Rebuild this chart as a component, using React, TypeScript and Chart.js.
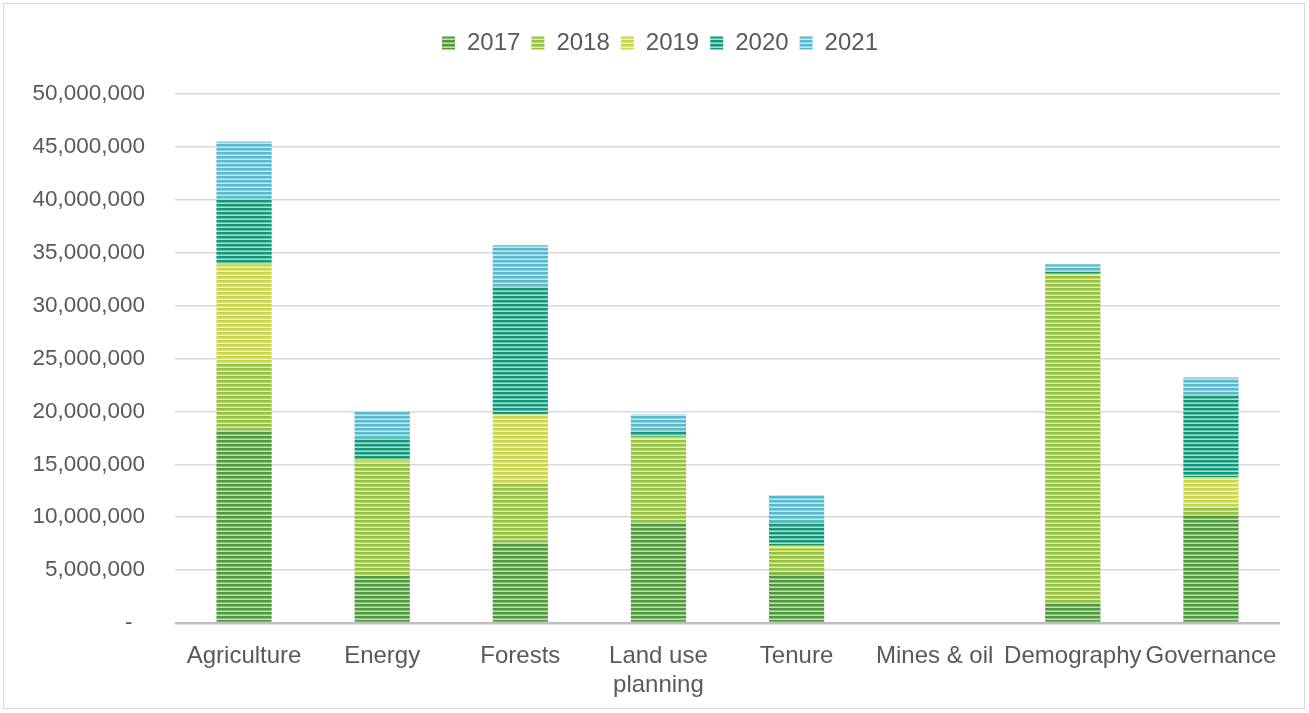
import React, { useEffect, useRef } from "react";
import { Chart, registerables } from "chart.js";

Chart.register(...registerables);

const categories: (string | string[])[] = [
  "Agriculture",
  "Energy",
  "Forests",
  ["Land use", "planning"],
  "Tenure",
  "Mines & oil",
  "Demography",
  "Governance",
];

const seriesLabels = ["2017", "2018", "2019", "2020", "2021"];

const values2017 = [18200000, 4500000, 7600000, 9500000, 4700000, 0, 1900000, 10200000];
const values2018 = [6400000, 10700000, 5600000, 7800000, 2300000, 0, 30900000, 800000];
const values2019 = [9300000, 200000, 6500000, 300000, 300000, 0, 200000, 2800000];
const values2020 = [6200000, 2100000, 12100000, 600000, 2300000, 0, 300000, 7800000];
const values2021 = [5400000, 2500000, 3900000, 1500000, 2500000, 0, 600000, 1600000];

const seriesColors = ["#4f9b3a", "#95c23b", "#c9d645", "#13997a", "#57b9cd"];

const FONT = "'Liberation Sans', Arial, sans-serif";

function mix(hex: string, t: number): string {
  const r = parseInt(hex.slice(1, 3), 16);
  const g = parseInt(hex.slice(3, 5), 16);
  const b = parseInt(hex.slice(5, 7), 16);
  const m = (c: number) => Math.round(c + (255 - c) * t);
  return `rgb(${m(r)},${m(g)},${m(b)})`;
}

function stripePattern(color: string): CanvasPattern | string {
  const c = document.createElement("canvas");
  c.width = 4;
  c.height = 4;
  const ctx = c.getContext("2d");
  if (!ctx) return color;
  ctx.fillStyle = color;
  ctx.fillRect(0, 0, 4, 2);
  ctx.fillStyle = mix(color, 0.35);
  ctx.fillRect(0, 2, 4, 1);
  ctx.fillStyle = mix(color, 0.65);
  ctx.fillRect(0, 3, 4, 1);
  const p = ctx.createPattern(c, "repeat");
  return p || color;
}

const legendSpacer = {
  id: "legendSpacer",
  beforeInit(chart: any) {
    if (!chart.legend) return;
    const orig = chart.legend.fit;
    chart.legend.fit = function () {
      orig.bind(chart.legend)();
      this.height += 29;
    };
  },
  afterLayout(chart: any) {
    if (!chart.legend) return;
    chart.legend.left += 40;
  },
};

export default function App() {
  const ref = useRef<HTMLCanvasElement>(null);

  useEffect(() => {
    document.body.style.margin = "0";
    if (!ref.current) return;
    const all = [values2017, values2018, values2019, values2020, values2021];
    const chart = new Chart(ref.current, {
      type: "bar",
      data: {
        labels: categories,
        datasets: all.map((d, i) => ({
          label: seriesLabels[i],
          data: d,
          backgroundColor: stripePattern(seriesColors[i]),
          borderWidth: 0,
          barPercentage: 0.8,
          categoryPercentage: 0.5,
        })),
      },
      plugins: [legendSpacer],
      options: {
        animation: false,
        responsive: false,
        maintainAspectRatio: false,
        layout: { padding: { left: 0, right: 29, top: 20, bottom: 0 } },
        plugins: {
          tooltip: { enabled: false },
          legend: {
            position: "top",
            labels: {
              boxWidth: 13,
              boxHeight: 13,
              padding: 11,
              color: "#595959",
              font: { family: FONT, size: 24 },
            },
          },
        },
        scales: {
          x: {
            stacked: true,
            grid: { display: false, drawTicks: false, tickLength: 0 },
            border: { display: false },
            afterFit: (scale: any) => {
              scale.height = 90;
            },
            ticks: {
              color: "#595959",
              padding: 19,
              maxRotation: 0,
              autoSkip: false,
              font: { family: FONT, size: 24, lineHeight: 1.2 },
            },
          },
          y: {
            stacked: true,
            min: 0,
            max: 50000000,
            border: { display: false },
            grid: {
              drawTicks: false,
              color: (ctx: any) => (ctx.tick && ctx.tick.value === 0 ? "#bfbfbf" : "#d9d9d9"),
              lineWidth: (ctx: any) => (ctx.tick && ctx.tick.value === 0 ? 2.5 : 1.5),
            },
            afterFit: (scale: any) => {
              scale.width = 175;
            },
            ticks: {
              stepSize: 5000000,
              padding: 30,
              color: "#595959",
              font: { family: FONT, size: 22.5 },
              callback: (v: any) => (v === 0 ? "-  " : Number(v).toLocaleString("en-US")),
            },
          },
        },
      },
    });
    return () => chart.destroy();
  }, []);

  return (
    <div style={{ position: "relative", width: 1309, height: 713, background: "#fff" }}>
      <canvas ref={ref} width={1309} height={713} style={{ position: "absolute", left: 0, top: 0 }} />
      <div
        style={{
          position: "absolute",
          left: 3,
          top: 3,
          width: 1302,
          height: 706,
          border: "1px solid #d9d9d9",
          boxSizing: "border-box",
          pointerEvents: "none",
        }}
      />
    </div>
  );
}
